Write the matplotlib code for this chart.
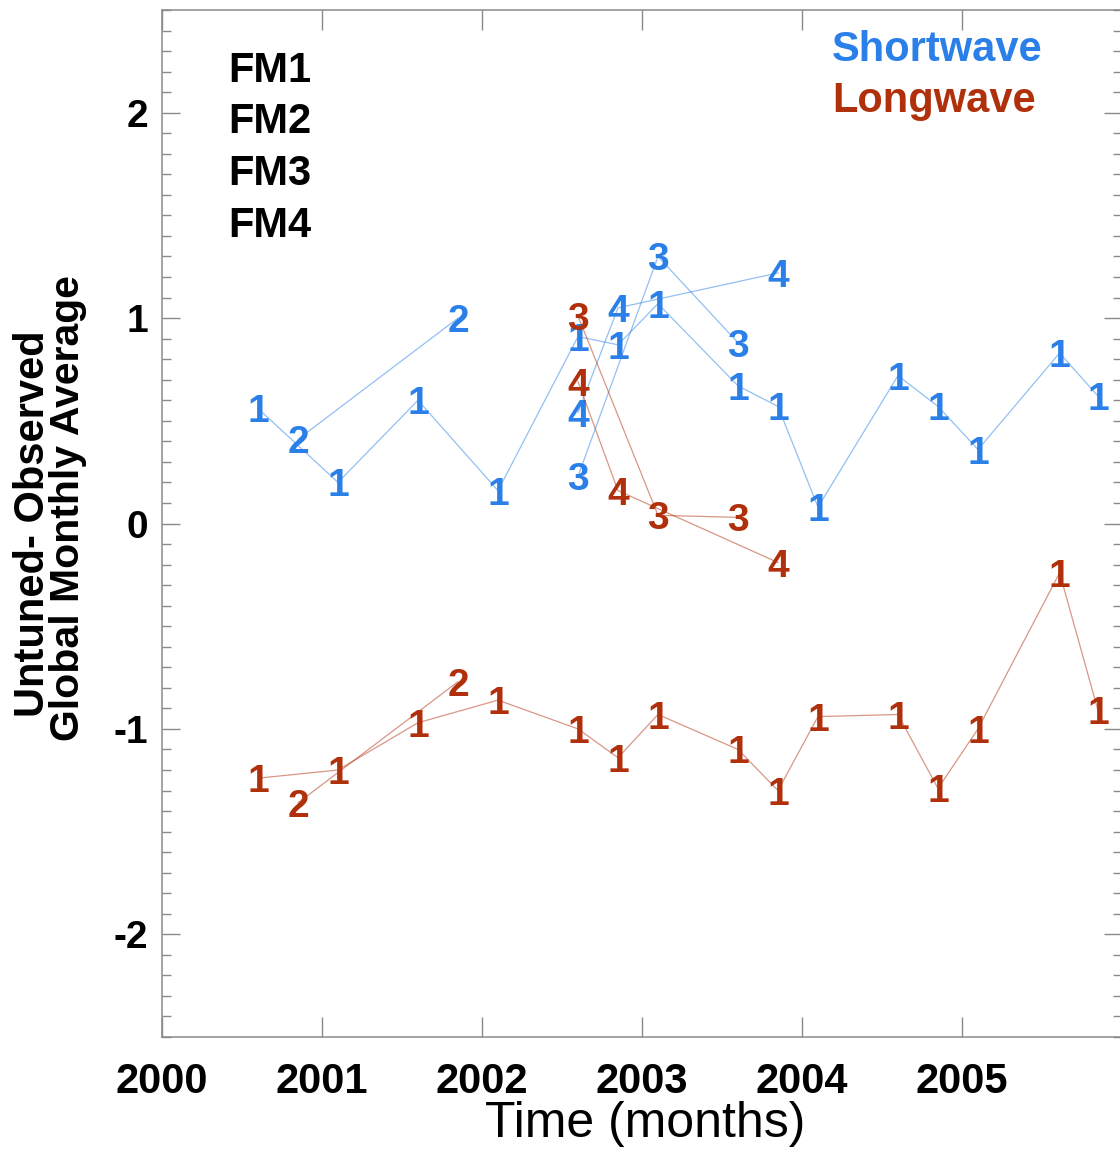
import matplotlib
matplotlib.use("Agg")
import matplotlib.pyplot as plt
from matplotlib.ticker import MultipleLocator, FixedLocator, FixedFormatter

plt.rcParams['font.family'] = ['Liberation Sans', 'DejaVu Sans']
plt.rcParams['axes.unicode_minus'] = False

# ---------------- data (decimal years, W/m^2 differences) ----------------
months_fm1 = [2000.60, 2001.10, 2001.60, 2002.10, 2002.60, 2002.85, 2003.10,
              2003.60, 2003.85, 2004.10, 2004.60, 2004.85, 2005.10, 2005.61, 2005.85]
sw_fm1 = [0.56, 0.20, 0.60, 0.16, 0.91, 0.87, 1.07, 0.67, 0.57, 0.08, 0.72, 0.57, 0.36, 0.83, 0.62]
lw_fm1 = [-1.24, -1.20, -0.97, -0.86, -1.00, -1.14, -0.93, -1.10, -1.30, -0.94, -0.93, -1.29, -1.00, -0.24, -0.91]

months_fm2 = [2000.85, 2001.85]
sw_fm2 = [0.41, 1.00]
lw_fm2 = [-1.36, -0.77]

months_fm3 = [2002.60, 2003.10, 2003.60]
sw_fm3 = [0.23, 1.30, 0.88]
lw_fm3 = [1.01, 0.04, 0.03]

months_fm4 = [2002.60, 2002.85, 2003.85]
sw_fm4 = [0.54, 1.05, 1.22]
lw_fm4 = [0.69, 0.16, -0.19]

instrument_labels = ["FM1", "FM2", "FM3", "FM4"]
symbols = ["1", "2", "3", "4"]
xtick_years = [2000, 2001, 2002, 2003, 2004, 2005]
ytick_vals = [-2, -1, 0, 1, 2]
ytick_labels = ["-2", "-1", "0", "1", "2"]

SW_COLOR = "#2a80e8"
LW_COLOR = "#b0300c"
FRAME = "#8a8a8a"

fig = plt.figure(figsize=(11.2, 11.54), dpi=100)
ax = fig.add_axes([162/1120, (1154-1037)/1154, 960/1120, 1027/1154])

sw_series = [(months_fm1, sw_fm1), (months_fm2, sw_fm2), (months_fm3, sw_fm3), (months_fm4, sw_fm4)]
lw_series = [(months_fm1, lw_fm1), (months_fm2, lw_fm2), (months_fm3, lw_fm3), (months_fm4, lw_fm4)]

for series, color, z in ((sw_series, SW_COLOR, 2), (lw_series, LW_COLOR, 4)):
    for sym, (xs, ys) in zip(symbols, series):
        ax.plot(xs, ys, color=color, lw=0.9, alpha=0.5, zorder=z)
        for x, y in zip(xs, ys):
            ax.text(x, y, sym, color=color, fontsize=28, fontweight='bold',
                    ha='center', va='center_baseline', zorder=z + 1)

ax.set_xlim(2000, 2006)
ax.set_ylim(-2.5, 2.5)

ax.xaxis.set_major_locator(FixedLocator(xtick_years))
ax.xaxis.set_major_formatter(FixedFormatter([str(v) for v in xtick_years]))
ax.yaxis.set_major_locator(FixedLocator(ytick_vals))
ax.yaxis.set_major_formatter(FixedFormatter(ytick_labels))
ax.yaxis.set_minor_locator(MultipleLocator(0.1))

ax.tick_params(axis='x', which='major', direction='in', length=14.5, width=1.0,
               color=FRAME, top=True, pad=18, labelsize=30)
ax.tick_params(axis='y', which='major', direction='in', length=13, width=1.0,
               color=FRAME, right=True, pad=10, labelsize=28)
ax.tick_params(axis='y', which='minor', direction='in', length=6.5, width=1.0,
               color=FRAME, right=True)
for lab in ax.get_xticklabels() + ax.get_yticklabels():
    lab.set_fontweight('bold')

for sp in ax.spines.values():
    sp.set_color(FRAME)
    sp.set_linewidth(1.1)

# FM labels
fm_baselines = [82, 133, 185, 237]
for lab, py in zip(instrument_labels, fm_baselines):
    ax.text((228-162)/960, (1037-py)/1027, lab, transform=ax.transAxes,
            fontsize=30, fontweight='bold', color='black', ha='left', va='baseline')

ax.text((832-162)/960, (1037-61)/1027, "Shortwave", transform=ax.transAxes,
        fontsize=30, fontweight='bold', color=SW_COLOR, ha='left', va='baseline')
ax.text((832-162)/960, (1037-112)/1027, "Longwave", transform=ax.transAxes,
        fontsize=30, fontweight='bold', color=LW_COLOR, ha='left', va='baseline')

# y label (two lines)
fig.text(44/1120, (1154-524)/1154, "Untuned- Observed", rotation=90,
         rotation_mode='anchor', ha='center', va='baseline',
         fontsize=30, fontweight='bold', color='black')
fig.text(79/1120, (1154-508)/1154, "Global Monthly Average", rotation=90,
         rotation_mode='anchor', ha='center', va='baseline',
         fontsize=29.5, fontweight='bold', color='black')

# x label
fig.text(645/1120, (1154-1137)/1154, "Time (months)", ha='center', va='baseline',
         fontsize=36, color='black')

fig.savefig("out.png", dpi=100, facecolor='white')
